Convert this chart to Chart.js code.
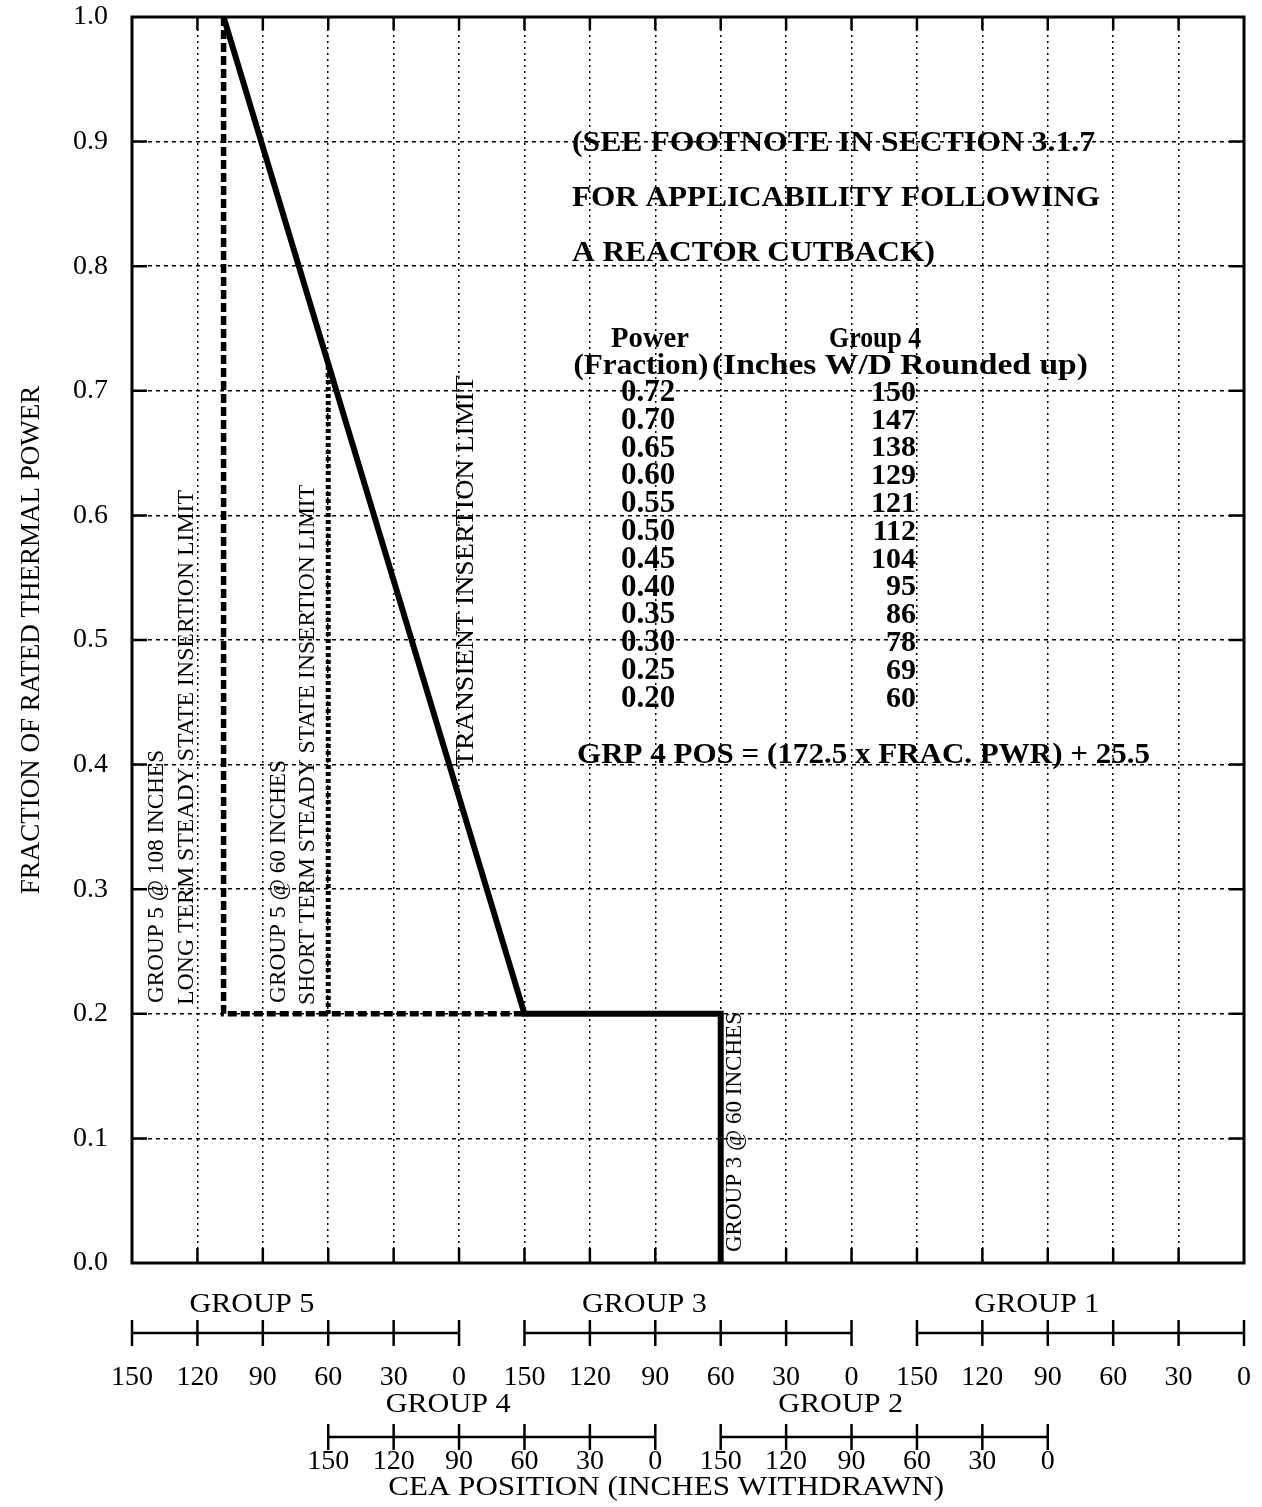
<!DOCTYPE html>
<html>
<head>
<meta charset="utf-8">
<script src="https://cdn.jsdelivr.net/npm/chart.js@4.4.1/dist/chart.umd.min.js"></script>
<style>
  html, body { margin: 0; padding: 0; background: #fff; }
  #wrap { width: 1262px; height: 1507px; }
</style>
</head>
<body>
<div id="wrap"><canvas id="c" width="1262" height="1507"></canvas></div>
<script>
// ---------------- DATA ----------------
// Combined CEA position scale (inches): each group's 150..0 inch travel is laid
// out left to right; groupStarts = combined-scale value of that group's 150" mark.
const groupNames  = ['GROUP 5', 'GROUP 4', 'GROUP 3', 'GROUP 2', 'GROUP 1'];
const groupStarts = [0, 90, 180, 270, 360];
const groupRows   = [0, 1, 0, 1, 0];
const inchTicks   = [150, 120, 90, 60, 30, 0];

// Transient insertion limit (solid): G5@108 at 1.0 -> G4@60 at 0.2 -> G3@60 -> 0
const transientPos   = [42, 180, 270, 270];
const transientPower = [1.0, 0.2, 0.2, 0.0];
// Long term steady state insertion limit (dashed): Group 5 @ 108 inches
const longTermPos   = [42, 42, 180];
const longTermPower = [1.0, 0.2, 0.2];
// Short term steady state insertion limit (dotted): Group 5 @ 60 inches
const shortTermPos   = [90, 90];
const shortTermPower = [0.72, 0.2];

// Table of Group 4 positions
const tablePower  = ['0.72', '0.70', '0.65', '0.60', '0.55', '0.50', '0.45', '0.40', '0.35', '0.30', '0.25', '0.20'];
const tableGroup4 = ['150', '147', '138', '129', '121', '112', '104', '95', '86', '78', '69', '60'];

// ---------------- RENDERING ----------------
const FAM = "'Liberation Serif', 'Times New Roman', serif";
const pts = (xs, ys) => xs.map((v, i) => ({ x: v, y: ys[i] }));

function txt(ctx, s, x, y, font, o) {
  o = o || {};
  ctx.save();
  ctx.font = font;
  ctx.fillStyle = '#000';
  ctx.textBaseline = 'middle';
  ctx.textAlign = o.align || 'left';
  ctx.translate(x, y);
  if (o.rot) ctx.rotate(o.rot);
  if (o.w) { const m = ctx.measureText(s).width; ctx.scale(o.w / m, 1); }
  ctx.fillText(s, 0, 0);
  ctx.restore();
}

const bgPlugin = {
  id: 'bg',
  beforeDraw(chart) {
    const c = chart.ctx;
    c.save(); c.fillStyle = '#fff'; c.fillRect(0, 0, chart.width, chart.height); c.restore();
  }
};

const overlay = {
  id: 'overlay',
  afterDraw(chart) {
    const { ctx, chartArea: a, scales: { x, y } } = chart;
    const X = v => x.getPixelForValue(v);
    const Y = v => y.getPixelForValue(v);

    // frame
    ctx.save();
    ctx.strokeStyle = '#000';
    ctx.lineWidth = 3;
    ctx.strokeRect(a.left, a.top, a.right - a.left, a.bottom - a.top);
    // inner tick marks
    ctx.lineWidth = 2.5;
    ctx.beginPath();
    x.ticks.forEach(t => {
      const px = X(t.value);
      if (px <= a.left + 1 || px >= a.right - 1) return;
      ctx.moveTo(px, a.bottom); ctx.lineTo(px, a.bottom - 15);
      ctx.moveTo(px, a.top); ctx.lineTo(px, a.top + 13);
    });
    y.ticks.forEach(t => {
      const py = Y(t.value);
      if (py <= a.top + 1 || py >= a.bottom - 1) return;
      ctx.moveTo(a.left, py); ctx.lineTo(a.left + 15, py);
      ctx.moveTo(a.right, py); ctx.lineTo(a.right - 15, py);
    });
    ctx.stroke();
    ctx.restore();

    // ---- notes in plot ----
    const B30 = 'bold 30px ' + FAM;
    txt(ctx, '(SEE FOOTNOTE IN SECTION 3.1.7', X(201.8), Y(0.899), B30, { w: 523 });
    txt(ctx, 'FOR APPLICABILITY FOLLOWING', X(201.8), Y(0.8547), B30, { w: 528 });
    txt(ctx, 'A REACTOR CUTBACK)', X(201.8), Y(0.8106), B30, { w: 363 });

    txt(ctx, 'Power', X(237.6), Y(0.7416), B30, { align: 'center', w: 78 });
    txt(ctx, '(Fraction)', X(233.4), Y(0.7199), B30, { align: 'center', w: 135 });
    txt(ctx, 'Group 4', X(340.8), Y(0.7416), B30, { align: 'center', w: 92 });
    txt(ctx, '(Inches W/D Rounded up)', X(352.2), Y(0.7199), B30, { align: 'center', w: 376 });
    const rowStep = 27.8;
    tablePower.forEach((p, i) => {
      const py = Y(0.6982) + i * rowStep;
      txt(ctx, p, X(236.7), py, 'bold 31px ' + FAM, { align: 'center' });
      txt(ctx, tableGroup4[i], X(359.6), py, 'bold 30px ' + FAM, { align: 'right' });
    });
    txt(ctx, 'GRP 4 POS = (172.5 x FRAC. PWR) + 25.5', X(204.1), Y(0.4077), B30, { w: 573 });

    // rotated labels (read bottom to top)
    const R = -Math.PI / 2;
    const N24 = '24px ' + FAM;
    txt(ctx, 'GROUP 5 @ 108 INCHES', X(11.5), Y(0.2087), N24, { rot: R, w: 253 });
    txt(ctx, 'LONG TERM STEADY STATE INSERTION LIMIT', X(25.2), Y(0.2071), N24, { rot: R, w: 515 });
    txt(ctx, 'GROUP 5 @ 60 INCHES', X(67.4), Y(0.2087), N24, { rot: R, w: 243 });
    txt(ctx, 'SHORT TERM STEADY STATE INSERTION LIMIT', X(80.7), Y(0.2071), N24, { rot: R, w: 520 });
    txt(ctx, 'TRANSIENT INSERTION LIMIT', X(153.2), Y(0.398), '26px ' + FAM, { rot: R, w: 392 });
    txt(ctx, 'GROUP 3 @ 60 INCHES', X(276.6), Y(0.0088), N24, { rot: R, w: 240 });

    // ---- CEA position rulers below the plot ----
    ctx.save();
    ctx.strokeStyle = '#000';
    ctx.lineWidth = 2.5;
    groupNames.forEach((name, g) => {
      const start = groupStarts[g];
      const row = groupRows[g];
      const ry = a.bottom + (row ? 174 : 70);
      ctx.beginPath();
      ctx.moveTo(X(start), ry); ctx.lineTo(X(start + 150), ry);
      inchTicks.forEach(v => {
        const px = X(start + 150 - v);
        ctx.moveTo(px, ry - 13); ctx.lineTo(px, ry + 13);
      });
      ctx.stroke();
      inchTicks.forEach(v => {
        txt(ctx, String(v), X(start + 150 - v), ry + (row ? 25 : 45), '28px ' + FAM, { align: 'center' });
      });
      txt(ctx, name, X(start + 55), ry - (row ? 32 : 28), '28px ' + FAM, { align: 'center', w: 125 });
    });
    ctx.restore();
    txt(ctx, 'CEA POSITION (INCHES WITHDRAWN)', X(245), a.bottom + 225, '28px ' + FAM, { align: 'center', w: 556 });
  }
};

new Chart(document.getElementById('c'), {
  type: 'line',
  data: {
    datasets: [
      { label: 'Transient insertion limit', data: pts(transientPos, transientPower),
        borderColor: '#000', borderWidth: 6, pointRadius: 0, fill: false, tension: 0, borderJoinStyle: 'miter' },
      { label: 'Long term steady state insertion limit', data: pts(longTermPos, longTermPower),
        borderColor: '#000', borderWidth: 5.5, borderDash: [9, 4], pointRadius: 0, fill: false, tension: 0 },
      { label: 'Short term steady state insertion limit', data: pts(shortTermPos, shortTermPower),
        borderColor: '#000', borderWidth: 5, borderDash: [4, 3], pointRadius: 0, fill: false, tension: 0 }
    ]
  },
  options: {
    responsive: false,
    animation: false,
    devicePixelRatio: 1,
    layout: { padding: { left: 0, top: 17, right: 18, bottom: 0 } },
    plugins: { legend: { display: false }, tooltip: { enabled: false } },
    scales: {
      x: {
        type: 'linear', min: 0, max: 510,
        ticks: { display: false, stepSize: 30, autoSkip: false },
        grid: { color: '#000', lineWidth: 1.5, drawTicks: false },
        border: { display: false, dash: [2, 4] },
        afterFit(s) { s.height = 244; s.paddingLeft = 0; s.paddingRight = 0; }
      },
      y: {
        type: 'linear', min: 0, max: 1,
        ticks: { stepSize: 0.1, padding: 24, color: '#000', font: { family: FAM, size: 28 },
                 callback: v => Number(v).toFixed(1) },
        grid: { color: '#000', lineWidth: 1.5, drawTicks: false },
        border: { display: false, dash: [4, 4] },
        title: { display: true, text: 'FRACTION OF RATED THERMAL POWER', color: '#000',
                 font: { family: FAM, size: 27 }, padding: { top: 16, bottom: 0 } },
        afterFit(s) { s.width = 132; s.paddingTop = 0; s.paddingBottom = 0; }
      }
    }
  },
  plugins: [bgPlugin, overlay]
});
</script>
</body>
</html>
